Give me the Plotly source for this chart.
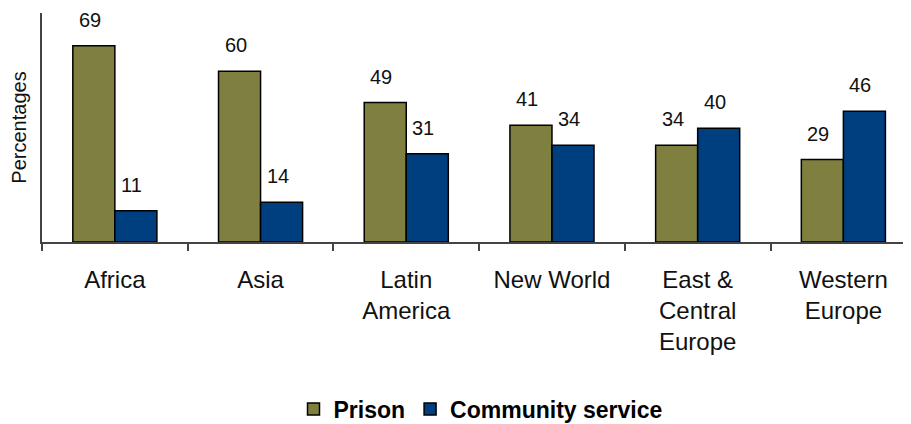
import plotly.graph_objects as go

categories = ["Africa", "Asia", "Latin<br>America", "New World", "East &<br>Central<br>Europe", "Western<br>Europe"]
prison = [69, 60, 49, 41, 34, 29]
community = [11, 14, 31, 34, 40, 46]

FONT = "Liberation Sans, Arial, sans-serif"
OLIVE = "#7F7F40"
BLUE = "#003F7F"

fig = go.Figure()
fig.add_trace(go.Bar(name="Prison", x=categories, y=prison, marker=dict(color=OLIVE, line=dict(color="#000000", width=1.5))))
fig.add_trace(go.Bar(name="Community service", x=categories, y=community, marker=dict(color=BLUE, line=dict(color="#000000", width=1.5))))

annotations = []
for cat, p, c in zip(categories, prison, community):
    annotations.append(dict(x=cat, y=p, xref="x", yref="y", text=str(p), showarrow=False,
                            xshift=-25, yshift=26, yanchor="middle",
                            font=dict(family=FONT, size=20, color="#111111")))
    annotations.append(dict(x=cat, y=c, xref="x", yref="y", text=str(c), showarrow=False,
                            xshift=17, yshift=26, yanchor="middle",
                            font=dict(family=FONT, size=20, color="#111111")))

fig.update_layout(
    width=911, height=424,
    margin=dict(l=34, r=0, t=5, b=190, autoexpand=False),
    paper_bgcolor="white", plot_bgcolor="white",
    barmode="group", bargap=0.423, bargroupgap=0,
    font=dict(family=FONT, color="#111111"),
    showlegend=True,
    legend=dict(orientation="h", x=0.5, xanchor="center", y=-0.729, yanchor="middle",
                font=dict(family=FONT, size=23, weight=700, color="#000000"),
                itemwidth=30, traceorder="normal"),
    annotations=annotations,
    xaxis=dict(range=[-0.5, 5.519], showline=True, linecolor="#444444", linewidth=2,
               ticks="outside", ticklen=7, tickwidth=2, tickcolor="#444444",
               tickson="boundaries", showgrid=False, zeroline=False, automargin=False,
               tickfont=dict(family=FONT, size=24, color="#111111"), ticklabelstandoff=15),
    yaxis=dict(range=[0, 80.5], showline=True, linecolor="#444444", linewidth=2,
               showticklabels=False, ticks="", showgrid=False, zeroline=False, automargin=False,
               title=dict(text="Percentages", font=dict(family=FONT, size=20, color="#111111"), standoff=14)),
)

fig.write_html("out.html")
